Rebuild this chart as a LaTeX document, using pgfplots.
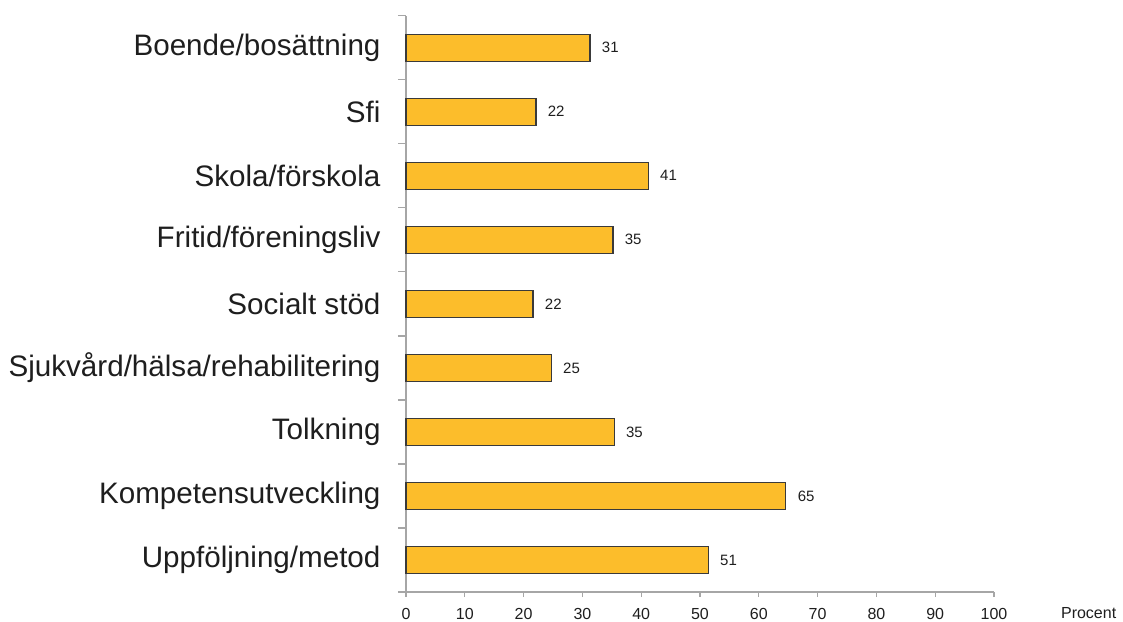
\documentclass[border=0pt]{standalone}
\usepackage{pgfplots}
\pgfplotsset{compat=1.18}
\usepackage{fontspec}
\setmainfont{Liberation Sans}
\definecolor{barfill}{RGB}{252,189,43}
\definecolor{baredge}{RGB}{58,58,58}
\definecolor{axisgrey}{RGB}{166,166,166}
\definecolor{txt}{RGB}{30,30,30}
\begin{document}
\begin{tikzpicture}
\begin{axis}[
  scale only axis,
  width=588pt, height=576.3pt,
  xmin=0, xmax=100, ymin=-0.5, ymax=8.5,
  axis x line*=bottom, axis y line*=left,
  axis line style={axisgrey, line width=1.5pt},
  xtick={0,10,...,100},
  ytick={0,...,8},
  yticklabels={Uppföljning/metod,Kompetensutveckling,Tolkning,Sjukvård/hälsa/rehabilitering,Socialt stöd,Fritid/föreningsliv,Skola/förskola,Sfi,Boende/bosättning},
  minor ytick={-0.5,0.5,...,8.5},
  tick align=outside,
  major tick length=5pt, minor tick length=8pt,
  tick style={axisgrey, line width=1.3pt},
  every major y tick/.append style={draw=none},
  /pgf/number format/assume math mode=true,
  y tick label style={font=\fontsize{29.6}{30}\selectfont, text=txt, xshift=-17pt},
  x tick label style={font=\fontsize{16}{16}\selectfont, text=txt, yshift=-8pt},
  xbar, bar width=27pt,
  nodes near coords, point meta=explicit symbolic,
  nodes near coords style={font=\fontsize{15}{15}\selectfont, text=txt, anchor=west, xshift=8pt},
  clip=false,
]
\addplot[fill=barfill, draw=baredge, line width=1.2pt] table[x=v, y=y, meta=lab] {
y v lab
8 31.3 31
7 22.1 22
6 41.2 41
5 35.2 35
4 21.6 22
3 24.7 25
2 35.4 35
1 64.6 65
0 51.4 51
};
\node[font=\fontsize{16}{16}\selectfont, text=txt, inner sep=0pt] at (rel axis cs:1.161,0) [yshift=-21pt] {Procent};
\end{axis}
\pgfresetboundingbox
\path[use as bounding box] (-406pt,-29pt) rectangle (717pt,592pt);
\end{tikzpicture}
\end{document}
